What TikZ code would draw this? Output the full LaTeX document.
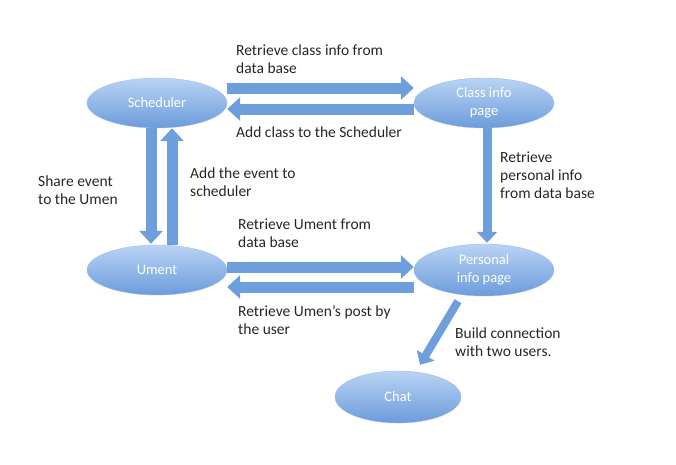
\documentclass[tikz,border=0pt]{standalone}
\usepackage{fontspec}
\setmainfont{Carlito}
\usetikzlibrary{shapes.geometric,arrows.meta,calc}
\definecolor{bubtop}{HTML}{B9D3F4}
\definecolor{bubbot}{HTML}{6C9CDB}
\definecolor{arrblue}{HTML}{6E9EDC}
\tikzset{
	bubble/.style={ellipse,minimum width=140pt,minimum height=50pt,inner sep=0pt,
		top color=bubtop,bottom color=bubbot,draw=bubtop!60!bubbot,text=white,align=center},
	fat/.style={draw=arrblue,line width=11pt,-{Triangle[length=13pt,width=23pt]}},
	slim/.style={draw=arrblue,line width=9pt,-{Triangle[length=11pt,width=20pt]}},
	note/.style={anchor=north west,align=left,inner sep=0pt,text=black!85,
		font=\fontsize{15.5}{18}\selectfont}
}
\begin{document}
\begin{tikzpicture}[x=1pt,y=-1pt,line join=round,font=\fontsize{14.5}{18}\selectfont]
	\useasboundingbox (0,0) rectangle (676,464);
	\path
	(157,103) node[bubble] (sched) {Scheduler}
	(484,103) node[bubble] (cls) {Class info\\page}
	(157,270) node[bubble] (ument) {Ument}
	(484,270) node[bubble,minimum height=52pt] (pers) {Personal\\info page}
	(398,397) node[bubble,minimum width=126pt,minimum height=52pt] (chat) {Chat}
	;
	% horizontal pairs
	\draw[fat] ($(sched.east)+(0,-15)$) -- ($(cls.west)+(0,-15)$);
	\draw[fat] ($(cls.west)+(0,6)$) -- ($(sched.east)+(0,6)$);
	\draw[fat] ($(ument.east)+(0,-3)$) -- ($(pers.west)+(0,-3)$);
	\draw[fat] ($(pers.west)+(0,17)$) -- ($(ument.east)+(0,17)$);
	% vertical pair
	\draw[fat] ($(sched.south)+(-6,0)$) -- ($(ument.north)+(-6,-1)$);
	\draw[fat] ($(ument.north)+(15,0)$) -- ($(sched.south)+(15,0)$);
	% thinner ones
	\draw[slim] ($(cls.south)+(3,0)$) -- ($(pers.north)+(3,-1)$);
	\draw[slim,line width=8pt] ($(pers.south)+(-26,5)$) -- ($(chat.north)+(22,-6)$);
	% labels
	\node[note] (t1) at (236,45) {Retrieve class info from\\data base};
	\node[note] (t2) at (236,127) {Add class to the Scheduler};
	\node[note] (t3) at (38,176) {Share event\\to the Umen};
	\node[note] (t4) at (190,168) {Add the event to\\scheduler};
	\node[note] (t5) at (500,152) {Retrieve\\personal info\\from data base};
	\node[note] (t6) at (238,219) {Retrieve Ument from\\data base};
	\node[note] (t7) at (238,305) {Retrieve Umen’s post by\\the user};
	\node[note] (t8) at (455,328) {Build connection\\with two users.};
\end{tikzpicture}
\end{document}
